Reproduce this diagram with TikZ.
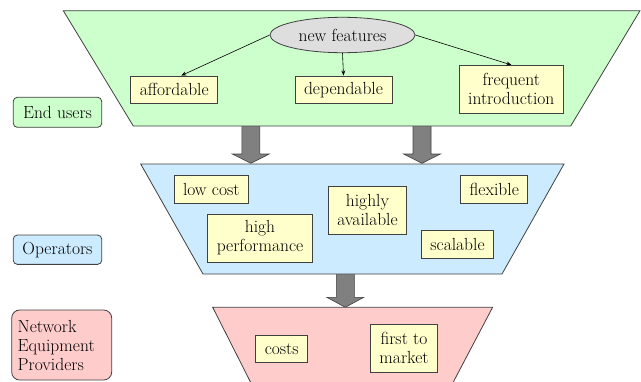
\documentclass[tikz,border=0pt]{standalone}
\usetikzlibrary{arrows.meta,shapes.geometric}

\definecolor{usergreen}{HTML}{CCFFCC}
\definecolor{opblue}{HTML}{CCEBFF}
\definecolor{neppink}{HTML}{FFCCCC}
\definecolor{featyellow}{HTML}{FFFFCC}
\definecolor{edgegray}{HTML}{404040}

\tikzset{
  layer/.style={draw=edgegray, line width=0.8pt},
  feat/.style={draw=edgegray, fill=featyellow, line width=0.8pt, inner xsep=9pt, inner ysep=0pt, minimum height=27.5pt, align=center},
  feattwo/.style={feat, minimum height=48pt},
  group/.style={draw=edgegray, line width=0.8pt, rounded corners=4pt, inner xsep=6pt, align=left},
  bigarrow/.style={draw=edgegray, fill=gray, line width=0.6pt},
  thin arrow/.style={-{Stealth[length=5pt,width=4pt]}, line width=0.6pt}
}

% block arrow: centre x, top of stem, top of head, tip
\newcommand{\blockarrow}[4]{%
  \draw[bigarrow] (#1-9,#2) -- (#1+9,#2) -- (#1+9,#3) -- (#1+18.5,#3) -- (#1,#4)
    -- (#1-18.5,#3) -- (#1-9,#3) -- cycle;}

\begin{document}
\begin{tikzpicture}[x=1pt,y=-1pt,font=\fontsize{17.5}{19}\selectfont]
 \clip (0,0) rectangle (641,381);

 % arrows between the layers
 \blockarrow{250.8}{120}{154}{163.3}
 \blockarrow{422}{120}{154}{163.3}
 \blockarrow{345.3}{268}{297.3}{307.3}

 % layers
 \draw[layer,fill=usergreen] (63.3,10.7) -- (640,10.7) -- (570.7,126) -- (133.3,126) -- cycle;
 \draw[layer,fill=opblue] (140.7,164) -- (564,164) -- (502,274) -- (203,274) -- cycle;
 \draw[layer,fill=neppink] (212.7,307.3) -- (492.6,307.3) -- (449.1,390) -- (254.5,390) -- cycle;

 % end users
 \node[ellipse, draw=edgegray, fill=black!13, line width=0.8pt, minimum width=145pt, minimum height=35.4pt, inner sep=0pt] (newfeat) at (342.5,35) {new features};
 \node[feat] (afford) at (174.3,89.7) {affordable};
 \node[feat] (depend) at (343.5,89.7) {dependable};
 \node[feattwo] (freq) at (511.3,89.3) {frequent\\introduction};
 \draw[thin arrow] (newfeat.west) -- ([xshift=7pt]afford.north);
 \draw[thin arrow] (newfeat.south) -- (depend.north);
 \draw[thin arrow] (newfeat.east) -- (freq.north);

 % operators
 \node[feat] (lowcost) at (211.3,189.5) {low cost};
 \node[feattwo] (highperf) at (260,237.9) {high\\performance};
 \node[feattwo] (highavail) at (367.5,210.3) {highly\\available};
 \node[feat] (flex) at (494.3,189.5) {flexible};
 \node[feat] (scal) at (457.5,244.2) {scalable};

 % equipment providers
 \node[feat] (costs) at (281.7,348.9) {costs};
 \node[feattwo] (firstmkt) at (404,347.9) {first to\\market};

 % group labels
 \node[group, fill=usergreen, minimum width=88.4pt, minimum height=30pt] (endusers) at (57.5,112.3) {End users};
 \node[group, fill=opblue, minimum width=88.4pt, minimum height=29.3pt] (operators) at (57.5,249.7) {Operators};
 \node[group, fill=neppink, rounded corners=8pt, text width=88pt, minimum height=70pt] (nep) at (61.7,345) {Network\\Equipment\\Providers};
\end{tikzpicture}
\end{document}
